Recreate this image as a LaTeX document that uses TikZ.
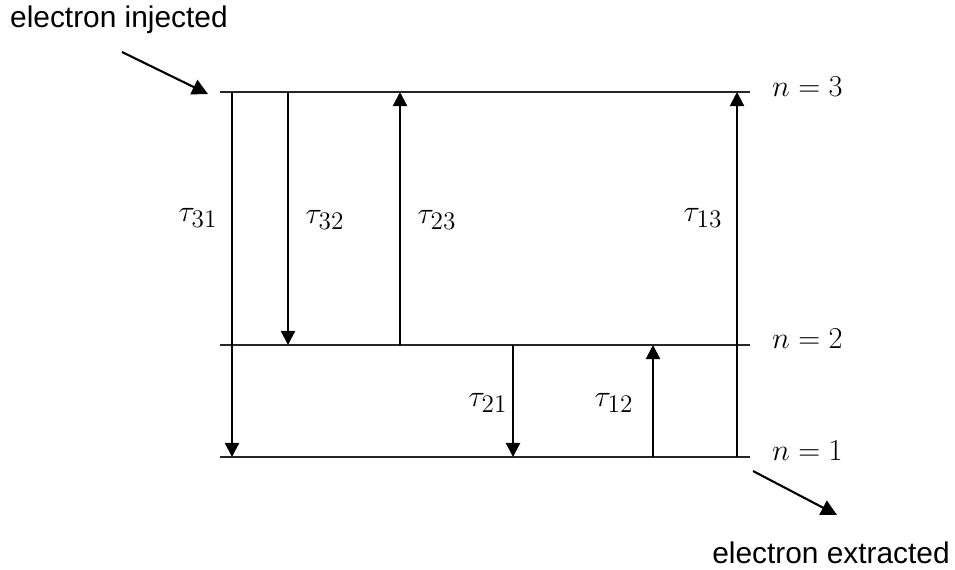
\documentclass[tikz,border=0pt]{standalone}
\usepackage{fontspec}
\setmainfont{Liberation Sans}
\usetikzlibrary{arrows.meta,calc}

\begin{document}
\begin{tikzpicture}[
    x=0.02cm, y=-0.02cm,
    every node/.style={font=\fontsize{17}{20}\selectfont},
    level/.style={line width=1.2pt, black!85},
    trans/.style={line width=1.2pt, -{Triangle[length=8pt,width=8pt]}},
    flow/.style={line width=1.2pt, -{Triangle[length=9pt,width=9pt]}},
    rate/.style={inner sep=1pt, font=\fontsize{19}{22}\selectfont},
    lvlabel/.style={anchor=west, inner sep=1pt, font=\fontsize{19}{22}\selectfont},
]
\useasboundingbox (0,0) rectangle (955,569);

% Level positions
\def\xL{220}
\def\xR{750}
\def\yA{92}    % n = 3
\def\yB{345}   % n = 2
\def\yC{457}   % n = 1

% --- Levels ---
\coordinate (n3w) at (\xL, \yA);  \coordinate (n3e) at (\xR, \yA);
\coordinate (n2w) at (\xL, \yB);  \coordinate (n2e) at (\xR, \yB);
\coordinate (n1w) at (\xL, \yC);  \coordinate (n1e) at (\xR, \yC);
\draw[level] (n3w) -- (n3e);
\draw[level] (n2w) -- (n2e);
\draw[level] (n1w) -- (n1e);

\node[lvlabel] (L3) at (770, 87)  {$n = 3$};
\node[lvlabel] (L2) at (770, 339) {$n = 2$};
\node[lvlabel] (L1) at (770, 451) {$n = 1$};

% --- Transitions ---
\draw[trans] ($(n3w)+(12,0)$)  -- ($(n1w)+(12,0)$);
\draw[trans] ($(n3w)+(68,0)$)  -- ($(n2w)+(68,0)$);
\draw[trans] ($(n2w)+(180,0)$) -- ($(n3w)+(180,0)$);
\draw[trans] ($(n1w)+(517,0)$) -- ($(n3w)+(517,0)$);
\draw[trans] ($(n2w)+(293,0)$) -- ($(n1w)+(293,0)$);
\draw[trans] ($(n1w)+(433,0)$) -- ($(n2w)+(433,0)$);

\node[rate] (t31) at (198, 218) {$\tau_{31}$};
\node[rate] (t32) at (325, 220) {$\tau_{32}$};
\node[rate] (t23) at (437, 220) {$\tau_{23}$};
\node[rate] (t13) at (703, 218) {$\tau_{13}$};
\node[rate] (t21) at (488, 403) {$\tau_{21}$};
\node[rate] (t12) at (614, 403) {$\tau_{12}$};

% --- Injection / extraction ---
\node[anchor=west] (inj) at (4, 20) {electron injected};
\node (ext) at (831, 553) {electron extracted};
\coordinate (injS) at (122, 52);
\coordinate (extE) at (837, 515);
\draw[flow] (injS) -- ($(n3w)+(-12,2)$);
\draw[flow] ($(n1e)+(3,14)$) -- (extE);

\end{tikzpicture}
\end{document}
